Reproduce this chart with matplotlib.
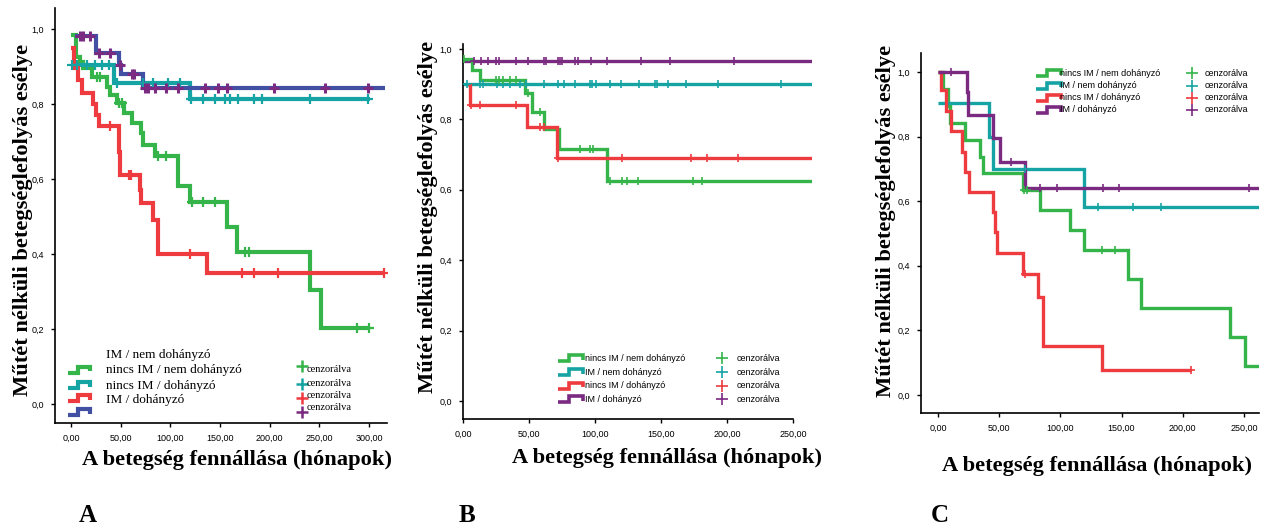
import numpy as np
import matplotlib
matplotlib.use("Agg")
import matplotlib.pyplot as plt
from matplotlib.ticker import FuncFormatter

SERIF = "Liberation Serif"
SANS = "Liberation Sans"

GREEN = "#35b44a"
TEAL = "#16a3a3"
RED = "#ee3b3f"
PURPLE = "#7a2a80"
BLUE = "#4150a3"

# ---- panel A: step times, survival, curve end, censored times
a_green_t = [0, 5, 9, 12, 21, 36, 39, 46, 53, 61, 71, 73, 85, 108, 120, 157, 167, 241, 252]
a_green_s = [0.985, 0.926, 0.913, 0.895, 0.873, 0.846, 0.824, 0.802, 0.775, 0.749, 0.722,
             0.69, 0.66, 0.58, 0.539, 0.473, 0.404, 0.303, 0.202]
a_green_end = 300
a_green_c = [26, 29, 48, 51, 88, 96, 122, 133, 145, 175, 179, 288, 300]

a_teal_t = [0, 43, 120]
a_teal_s = [0.904, 0.857, 0.812]
a_teal_end = 301
a_teal_c = [1, 6, 16, 24, 31, 38, 46, 73, 83, 98, 110, 121, 133, 145, 155, 160, 168,
            184, 192, 241, 299]

a_red_t = [0, 3, 7, 11, 22, 25, 28, 48, 49.5, 69.5, 71, 83, 88, 137]
a_red_s = [0.948, 0.895, 0.864, 0.828, 0.80, 0.77, 0.74, 0.673, 0.611, 0.571, 0.535,
           0.49, 0.40, 0.35]
a_red_end = 315
a_red_c = [39, 58, 60, 120, 172, 184, 208, 315]

a_blue_t = [4, 25, 48, 50, 73]
a_blue_s = [0.98, 0.935, 0.905, 0.88, 0.843]
a_blue_end = 316
a_blue_c = [9, 12, 19, 28, 39, 49, 61, 63, 75, 78, 85, 96, 108, 135, 148, 157, 204, 256, 299]

# ---- panel B
b_purple_t = [0]
b_purple_s = [0.966]
b_purple_c = [8, 14, 19, 25, 27.5, 40, 49, 61, 63, 72, 73.5, 75, 85, 87.5, 97, 109, 135, 157, 205]

b_teal_t = [0]
b_teal_s = [0.90]
b_teal_c = [2.8, 13, 15.4, 25.5, 30.5, 35.6, 43, 48, 61, 72, 76.5, 85, 96, 98, 100.5, 111,
            120, 133, 145.5, 147, 155.5, 169, 193, 241]

b_green_t = [0, 6.6, 13, 47, 52, 61, 73, 109]
b_green_s = [0.971, 0.94, 0.912, 0.874, 0.822, 0.773, 0.715, 0.625]
b_green_c = [0.5, 25, 27.5, 30.5, 35.6, 40, 49.5, 58.3, 88.6, 96.2, 98.2, 111.4, 120.2, 124,
             132.8, 174.5, 180.8]

b_red_t = [3.8, 5.3, 48.2, 71]
b_red_s = [0.898, 0.841, 0.777, 0.691]
b_red_c = [6, 13, 40, 58.3, 61, 72.2, 120.2, 172.7, 184.6, 208.6]
b_end = 266

# ---- panel C
c_green_t = [0, 4, 8, 10, 22, 34, 37, 69.7, 83, 107.5, 119.3, 155, 165.6, 238.6, 250.8]
c_green_s = [1.0, 0.947, 0.895, 0.842, 0.79, 0.737, 0.686, 0.634, 0.573, 0.51, 0.449,
             0.358, 0.268, 0.178, 0.09]
c_green_c = [70.5, 72.4, 133.7, 144.6]

c_teal_t = [0, 42, 44.7, 119.3]
c_teal_s = [0.903, 0.80, 0.70, 0.583]
c_teal_c = [71, 131, 159, 182]

c_red_t = [0, 2.5, 6.5, 10.4, 19.4, 22, 25.5, 45.2, 46.6, 48, 69.7, 81.5, 85.8, 134.3]
c_red_s = [1.0, 0.944, 0.879, 0.818, 0.751, 0.691, 0.629, 0.567, 0.505, 0.44, 0.376,
           0.304, 0.152, 0.077]
c_red_end = 207
c_red_c = [71, 207]

c_purple_t = [0, 23.4, 24.8, 45.2, 50.7, 71]
c_purple_s = [1.0, 0.937, 0.867, 0.795, 0.722, 0.64]
c_purple_c = [11, 60, 83, 97, 135, 148, 254]
c_end = 265

labels_bc = ["nincs IM / nem dohányzó", "IM / nem dohányzó", "nincs IM / dohányzó", "IM / dohányzó"]
labels_a = ["IM / nem dohányzó", "nincs IM / nem dohányzó", "nincs IM / dohányzó", "IM / dohányzó"]

W, H = 1265, 530
fig = plt.figure(figsize=(W / 100, H / 100), dpi=100)


def rect(l, t, r, b):
    return [l / W, 1 - b / H, (r - l) / W, (b - t) / H]


def km(ax, t, s, end, cens, color, lw, ms, mew):
    ax.plot(list(t) + [end], list(s) + [s[-1]], drawstyle="steps-post", color=color,
            lw=lw, solid_joinstyle="miter", solid_capstyle="butt", zorder=2)
    idx = np.searchsorted(t, cens, side="right") - 1
    ax.plot(cens, np.array(s)[idx], ls="none", marker="+", color=color,
            ms=ms, mew=mew, zorder=3)


def style(ax, xlim, ylim, xticks, xbound=None):
    ax.set_xlim(*xlim)
    ax.set_ylim(*ylim)
    ax.set_xticks(xticks)
    ax.set_yticks(np.arange(0, 1.01, 0.2))
    ax.xaxis.set_major_formatter(FuncFormatter(lambda v, p: f"{v:.2f}".replace(".", ",")))
    ax.yaxis.set_major_formatter(FuncFormatter(lambda v, p: f"{v:.1f}".replace(".", ",")))
    for sp in ["top", "right"]:
        ax.spines[sp].set_visible(False)
    for sp in ["left", "bottom"]:
        ax.spines[sp].set_linewidth(1.2)
    if xbound is not None:
        ax.spines["bottom"].set_bounds(*xbound)
    ax.tick_params(length=3, width=1, labelsize=6.5, pad=5)
    for lab in ax.get_xticklabels() + ax.get_yticklabels():
        lab.set_family(SANS)


# panel A
axA = fig.add_axes(rect(55, 8, 387, 423))
km(axA, a_green_t, a_green_s, a_green_end, a_green_c, GREEN, 3.0, 7, 1.6)
km(axA, a_teal_t, a_teal_s, a_teal_end, a_teal_c, TEAL, 3.0, 7, 1.6)
km(axA, a_red_t, a_red_s, a_red_end, a_red_c, RED, 3.0, 7, 1.6)
km(axA, a_blue_t, a_blue_s, a_blue_end, [], BLUE, 3.0, 7, 1.6)
idx = np.searchsorted(a_blue_t, a_blue_c, side="right") - 1
axA.plot(a_blue_c, np.array(a_blue_s)[idx], ls="none", marker="+", color=PURPLE,
         ms=7, mew=2.2, zorder=3)
style(axA, (-16, 318), (-0.051, 1.056), np.arange(0, 301, 50))

# panel B
axB = fig.add_axes(rect(463, 44, 812, 419))
km(axB, b_purple_t, b_purple_s, b_end, b_purple_c, PURPLE, 2.4, 6, 1.2)
km(axB, b_teal_t, b_teal_s, b_end, b_teal_c, TEAL, 2.4, 6, 1.2)
km(axB, b_green_t, b_green_s, b_end, b_green_c, GREEN, 2.4, 6, 1.2)
km(axB, b_red_t, b_red_s, b_end, b_red_c, RED, 2.4, 6, 1.2)
style(axB, (0, 264.4), (-0.051, 1.014), np.arange(0, 251, 50), xbound=(0, 250))

# panel C
axC = fig.add_axes(rect(921, 53, 1259, 413))
km(axC, c_green_t, c_green_s, c_end, c_green_c, GREEN, 2.4, 6, 1.2)
km(axC, c_teal_t, c_teal_s, c_end, c_teal_c, TEAL, 2.4, 6, 1.2)
km(axC, c_red_t, c_red_s, c_red_end, c_red_c, RED, 2.4, 6, 1.2)
km(axC, c_purple_t, c_purple_s, c_end, c_purple_c, PURPLE, 2.4, 6, 1.2)
style(axC, (-13.9, 262.3), (-0.056, 1.059), np.arange(0, 251, 50))

# overlay in pixel coordinates for titles and hand-made legends
ov = fig.add_axes([0, 0, 1, 1], zorder=5)
ov.set_xlim(0, W)
ov.set_ylim(H, 0)
ov.axis("off")
ov.patch.set_alpha(0)

ylab = "Műtét nélküli betegséglefolyás esélye"
xlab = "A betegség fennállása (hónapok)"
for x, y in [(23, 220), (428, 217), (886, 221)]:
    ov.text(x, y, ylab, rotation=90, ha="center", va="center", family=SERIF,
            weight="bold", fontsize=16.2)
for x, y in [(237, 460), (667, 458), (1097, 466)]:
    ov.text(x, y, xlab, ha="center", va="center", family=SERIF, weight="bold", fontsize=16.2)
for x, letter in [(88, "A"), (467, "B"), (940, "C")]:
    ov.text(x, 516, letter, ha="center", va="center", family=SERIF, weight="bold", fontsize=18)


def step_symbol(x0, yc, w, color, lw):
    xs = [x0, x0 + w * 0.45, x0 + w * 0.45, x0 + w, x0 + w]
    ys = [yc + 3, yc + 3, yc - 3, yc - 3, yc + 1.5]
    ov.plot(xs, ys, color=color, lw=lw, solid_joinstyle="miter", solid_capstyle="butt")


# legend A (misaligned as in the original)
for y, lab in zip([355, 369.5, 385.5, 400.5], labels_a):
    ov.text(106, y, lab, ha="left", va="center", family=SERIF, fontsize=9.5)
for y, col in zip([369.5, 385, 398, 412], [GREEN, TEAL, RED, BLUE]):
    step_symbol(68, y, 22, col, 3.0)
for y, ty, col in zip([366, 383.5, 397.5, 412], [370, 384, 395.7, 407.7],
                      [GREEN, TEAL, RED, PURPLE]):
    ov.plot([302.3], [y], marker="+", color=col, ms=8, mew=1.8)
    ov.text(306.7, ty, "cenzorálva", ha="left", va="center", family=SERIF, fontsize=7.5)

# legends B and C
cols = [GREEN, TEAL, RED, PURPLE]
for (sx, tx, cx, ctx, rows) in [(558, 585, 722.3, 736.7, [358.3, 372.3, 385.7, 399.3]),
                                (1035.7, 1060.5, 1191.7, 1205, [73.3, 85.7, 97.7, 110])]:
    for y, lab, col in zip(rows, labels_bc, cols):
        step_symbol(sx, y, 25, col, 2.6)
        ov.text(tx, y, lab, ha="left", va="center", family=SANS, fontsize=6.5)
        ov.plot([cx], [y], marker="+", color=col, ms=8, mew=1.2)
        ov.text(ctx, y, "cenzorálva", ha="left", va="center", family=SANS, fontsize=6.5)

fig.savefig("out.png", dpi=100)
